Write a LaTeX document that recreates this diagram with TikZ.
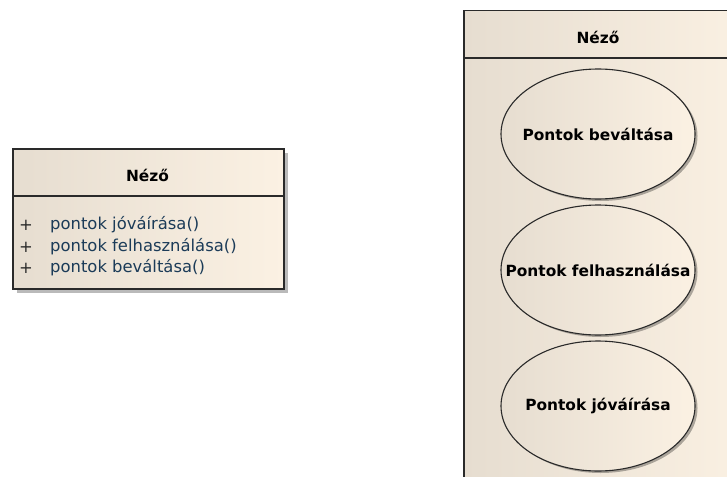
\documentclass[tikz,border=0pt]{standalone}
\usepackage{fontspec}
\setmainfont{DejaVu Sans}
\usetikzlibrary{shapes.geometric,shadows}
\definecolor{fillL}{HTML}{E6DDD0}
\definecolor{fillR}{HTML}{FBF1E3}
\definecolor{edge}{HTML}{2A2A2A}
\definecolor{optext}{HTML}{1B3B58}
\newcommand{\zw}[1]{\makebox[0pt]{#1}}
\begin{document}
\begin{tikzpicture}[x=1pt,y=-1pt,
  box/.style={draw=edge, line width=1.5pt, left color=fillL, right color=fillR,
    inner sep=0pt, anchor=north west},
  usecase/.style={ellipse, draw=edge, line width=1.1pt, left color=fillL, right color=fillR,
    minimum width=194pt, minimum height=130pt, inner sep=0pt,
    font=\bfseries\fontsize{15.4}{18}\selectfont, text=black,
    drop shadow={shadow xshift=2.5pt, shadow yshift=-2pt, fill=black, opacity=0.3}},
  title/.style={font=\bfseries\fontsize{15.4}{18}\selectfont, text=black},
  op/.style={font=\fontsize{16.4}{20}\selectfont, text=optext, anchor=west, inner sep=0pt},
  vis/.style={font=\fontsize{16.4}{20}\selectfont, text=edge, inner sep=0pt}]
\useasboundingbox (0,0) rectangle (727,476);
\clip (0,0) rectangle (727,476);

% class with its operations
\node[box, minimum width=271pt, minimum height=140pt,
  drop shadow={shadow xshift=4pt, shadow yshift=-4pt, fill=black!45, opacity=0.6}]
  (cls) at (12,148) {};
\draw[edge, line width=1.5pt] ([yshift=-48pt]cls.north west) -- ([yshift=-48pt]cls.north east);
\node[title] (clsname) at (147.5,175) {Néző};
\node[vis] (v1) at (26,225) {+};
\node[vis] (v2) at (26,247) {+};
\node[vis] (v3) at (26,268) {+};
\node[op] (o1) at (50,225) {pontok jóváírása()};
\node[op] (o2) at (50,247) {pontok felhasználása()};
\node[op] (o3) at (50,268) {pontok beváltása()};

% actor boundary holding the use cases
\node[box, minimum width=290pt, minimum height=500pt] (act) at (463,10) {};
\draw[edge, line width=1.5pt] ([yshift=-48pt]act.north west) -- ([yshift=-48pt]act.north east);
\node[title] (actname) at (598,37) {Néző};

% use cases; the label is kept zero-width so the ellipse keeps its set size
\node[usecase] (uc1) at (598,134) {\zw{Pontok beváltása}};
\node[usecase] (uc2) at (598,270) {\zw{Pontok felhasználása}};
\node[usecase] (uc3) at (598,406) {\zw{Pontok jóváírása}};
\end{tikzpicture}
\end{document}
